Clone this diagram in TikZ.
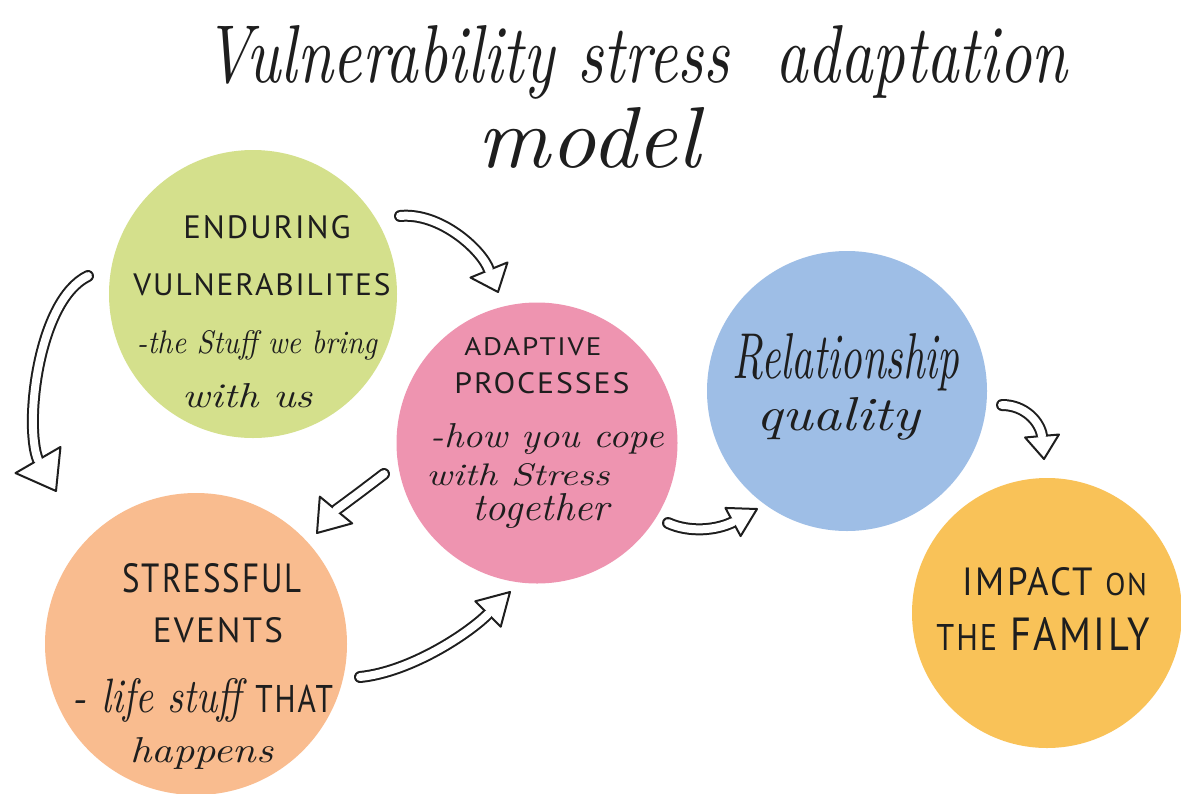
\documentclass[tikz,border=0pt]{standalone}
\usepackage{fontspec}
\usepackage{graphicx}
\usetikzlibrary{calc}
\newfontfamily\capsfont[LetterSpace=6]{PT Sans}
\definecolor{cgreen}{HTML}{D4E08C}
\definecolor{cpink}{HTML}{EE94B0}
\definecolor{cblue}{HTML}{9EBEE6}
\definecolor{corange}{HTML}{F9BC8F}
\definecolor{cyellow}{HTML}{F9C258}
\definecolor{ink}{HTML}{1E1E1E}
\newcommand\fitline[3]{\resizebox{#1pt}{#2pt}{#3}}
% hollow curved block arrow: start, control1, control2, head base, tip, head half width
\newcommand\hollowarrow[6]{%
  \draw[shaftout] (#1) .. controls (#2) and (#3) .. (#4);
  \draw[arrhead] (#5) -- ($(#4)!#6pt!90:(#5)$) -- ($(#4)!#6pt!-90:(#5)$) -- cycle;
  \draw[shaftin] (#1) .. controls (#2) and (#3) .. (#4);
}
\begin{document}
\begin{tikzpicture}[x=1pt,y=-1pt,
  blob/.style={circle,inner sep=0pt,draw=none},
  txt/.style={inner sep=0pt,anchor=base,text=ink},
  shaftout/.style={line width=12pt,line cap=round,draw=ink},
  shaftin/.style={line width=8pt,line cap=round,draw=white},
  arrhead/.style={line width=2pt,line join=round,draw=ink,fill=white}]
\fill[white] (0,0) rectangle (1181,793);
\useasboundingbox (0,0) rectangle (1181,793);

% circles
\node[blob,fill=cgreen,minimum size=288pt] (vuln) at (253,294) {};
\node[blob,fill=cpink,minimum size=281pt] (adapt) at (537,443) {};
\node[blob,fill=cblue,minimum size=280pt] (relq) at (847,391) {};
\node[blob,fill=corange,minimum size=302pt] (stressev) at (196,644) {};
\node[blob,fill=cyellow,minimum size=270pt] (impact) at (1047,613) {};

% title
\node[txt] (title) at (636,82) {\fitline{863}{57}{\itshape Vulnerability stress\ \ adaptation}};
\node[txt] (model) at (589,167) {\fitline{222}{60}{\itshape model}};

% enduring vulnerabilities
\node[txt] (v1) at (267,238) {\fitline{167}{23}{\capsfont ENDURING}};
\node[txt] (v2) at (262,295) {\fitline{257}{22}{\capsfont VULNERABILITES}};
\node[txt] (v3) at (257,353) {\fitline{240}{23}{\itshape -the Stuff we bring}};
\node[txt] (v4) at (248,407) {\fitline{130}{24}{\itshape with us}};

% adaptive processes
\node[txt] (a1) at (533,355) {\fitline{137}{18}{\capsfont ADAPTIVE}};
\node[txt] (a2) at (542,393) {\fitline{175}{21}{\capsfont PROCESSES}};
\node[txt] (a3) at (547,447) {\fitline{233}{24}{\itshape -how you cope}};
\node[txt] (a4) at (518,485) {\fitline{183}{22}{\itshape with Stress}};
\node[txt] (a5) at (541,520) {\fitline{137}{27}{\itshape together}};

% relationship quality
\node[txt] (r1) at (846,378) {\fitline{227}{45}{\itshape Relationship}};
\node[txt] (r2) at (838,430) {\fitline{163}{33}{\itshape quality}};

% stressful events
\node[txt] (s1) at (212,592) {\fitline{179}{29}{\capsfont STRESSFUL}};
\node[txt] (s2) at (218,642) {\fitline{130}{25}{\capsfont EVENTS}};
\node[txt] (s3) at (203,712) {\fitline{260}{34}{\itshape - life stuff {\upshape\capsfont\footnotesize THAT}}};
\node[txt] (s4) at (202,762) {\fitline{143}{25}{\itshape happens}};

% impact on the family
\node[txt] (i1) at (1055,595) {\fitline{184}{28}{\capsfont IMPACT\ {\footnotesize ON}}};
\node[txt] (i2) at (1043,650) {\fitline{213}{33}{\capsfont{\footnotesize THE}\ FAMILY}};

% arrow coordinates
\coordinate (a1s) at (88,276);  \coordinate (a1c) at (38,300);  \coordinate (a1d) at (24,425);
\coordinate (a1b) at (38,460);  \coordinate (a1t) at (56,491);
\coordinate (a2s) at (400,216); \coordinate (a2c) at (440,212); \coordinate (a2d) at (482,250);
\coordinate (a2b) at (489,270); \coordinate (a2t) at (498,292);
\coordinate (a3s) at (384,474); \coordinate (a3c) at (367,487); \coordinate (a3d) at (351,499);
\coordinate (a3b) at (336,510); \coordinate (a3t) at (317,533);
\coordinate (a4s) at (360,677); \coordinate (a4c) at (410,672); \coordinate (a4d) at (468,634);
\coordinate (a4b) at (488,614); \coordinate (a4t) at (510,592);
\coordinate (a5s) at (668,523); \coordinate (a5c) at (690,533); \coordinate (a5d) at (717,530);
\coordinate (a5b) at (733,522); \coordinate (a5t) at (757,509);
\coordinate (a6s) at (1002,405); \coordinate (a6c) at (1025,405); \coordinate (a6d) at (1040,422);
\coordinate (a6b) at (1042,436); \coordinate (a6t) at (1044,459);

\hollowarrow{a1s}{a1c}{a1d}{a1b}{a1t}{26}
\hollowarrow{a2s}{a2c}{a2d}{a2b}{a2t}{20}
\hollowarrow{a3s}{a3c}{a3d}{a3b}{a3t}{21}
\hollowarrow{a4s}{a4c}{a4d}{a4b}{a4t}{18}
\hollowarrow{a5s}{a5c}{a5d}{a5b}{a5t}{16}
\hollowarrow{a6s}{a6c}{a6d}{a6b}{a6t}{17}
\end{tikzpicture}
\end{document}
